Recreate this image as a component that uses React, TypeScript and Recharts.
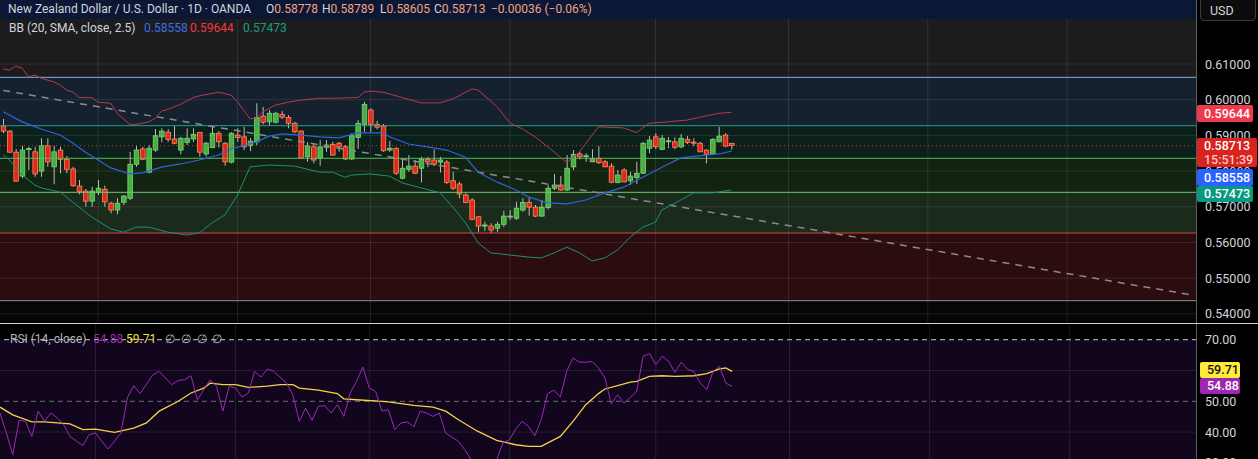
import React from "react";
import { ComposedChart, Bar, Line, XAxis, YAxis, ReferenceArea, ReferenceLine } from "recharts";

// ---------- candle data (NZD/USD daily) ----------
const opens = [0.5926,0.5912,0.5853,0.5786,0.5862,0.5854,0.5800,0.5871,0.5812,0.5859,0.5833,0.5806,0.5758,0.5744,0.5716,0.5740,0.5749,0.5710,0.5691,0.5713,0.5724,0.5819,0.5862,0.5797,0.5859,0.5896,0.5909,0.5890,0.5859,0.5880,0.5890,0.5908,0.5848,0.5866,0.5906,0.5878,0.5825,0.5901,0.5896,0.5871,0.5882,0.5954,0.5938,0.5937,0.5959,0.5950,0.5934,0.5912,0.5840,0.5868,0.5836,0.5867,0.5875,0.5878,0.5868,0.5834,0.5894,0.5931,0.5971,0.5931,0.5926,0.5859,0.5864,0.5780,0.5805,0.5814,0.5808,0.5833,0.5831,0.5825,0.5825,0.5773,0.5764,0.5733,0.5719,0.5672,0.5646,0.5646,0.5640,0.5651,0.5672,0.5668,0.5691,0.5712,0.5699,0.5674,0.5698,0.5752,0.5761,0.5747,0.5812,0.5848,0.5842,0.5826,0.5836,0.5826,0.5814,0.5768,0.5803,0.5773,0.5782,0.5794,0.5864,0.5896,0.5861,0.5884,0.5882,0.5868,0.5889,0.5881,0.5878,0.5859,0.5847,0.5882,0.5901,0.58778];
const highs = [0.5946,0.5915,0.5862,0.5871,0.5868,0.5868,0.5892,0.5892,0.5871,0.5868,0.5842,0.5812,0.5775,0.5750,0.5756,0.5775,0.5759,0.5714,0.5724,0.5733,0.5854,0.5873,0.5868,0.5873,0.5918,0.5920,0.5918,0.5926,0.5896,0.5920,0.5920,0.5910,0.5882,0.5924,0.5912,0.5882,0.5909,0.5920,0.5924,0.5892,0.5990,0.5980,0.5971,0.5966,0.5968,0.5957,0.5938,0.5915,0.5881,0.5875,0.5887,0.5887,0.5882,0.5882,0.5873,0.5906,0.5943,0.5994,0.5976,0.5941,0.5932,0.5885,0.5866,0.5836,0.5845,0.5831,0.5840,0.5840,0.5861,0.5840,0.5831,0.5798,0.5770,0.5738,0.5724,0.5674,0.5658,0.5654,0.5658,0.5689,0.5691,0.5714,0.5724,0.5724,0.5705,0.5719,0.5761,0.5792,0.5786,0.5845,0.5859,0.5854,0.5850,0.5861,0.5870,0.5831,0.5822,0.5803,0.5808,0.5798,0.5826,0.5882,0.5898,0.5906,0.5901,0.5895,0.5895,0.5904,0.5898,0.5892,0.5882,0.5861,0.5892,0.5924,0.5906,0.58789];
const lows = [0.5906,0.5851,0.5770,0.5780,0.5803,0.5784,0.5784,0.5812,0.5763,0.5794,0.5794,0.5756,0.5735,0.5700,0.5700,0.5733,0.5700,0.5682,0.5679,0.5705,0.5719,0.5812,0.5831,0.5794,0.5854,0.5881,0.5882,0.5875,0.5847,0.5873,0.5882,0.5840,0.5840,0.5864,0.5866,0.5815,0.5822,0.5882,0.5859,0.5856,0.5873,0.5931,0.5929,0.5934,0.5946,0.5920,0.5906,0.5834,0.5826,0.5822,0.5815,0.5854,0.5843,0.5854,0.5831,0.5831,0.5862,0.5910,0.5910,0.5917,0.5854,0.5854,0.5789,0.5777,0.5798,0.5792,0.5768,0.5811,0.5814,0.5796,0.5764,0.5747,0.5724,0.5710,0.5663,0.5630,0.5633,0.5626,0.5630,0.5643,0.5663,0.5663,0.5686,0.5675,0.5671,0.5672,0.5693,0.5747,0.5745,0.5744,0.5803,0.5833,0.5826,0.5826,0.5820,0.5811,0.5766,0.5766,0.5768,0.5761,0.5764,0.5792,0.5850,0.5861,0.5859,0.5864,0.5861,0.5864,0.5876,0.5870,0.5853,0.5822,0.5845,0.5881,0.5867,0.58605];
const closes = [0.5912,0.5853,0.5772,0.5859,0.5863,0.5792,0.5871,0.5826,0.5854,0.5833,0.5805,0.5759,0.5742,0.5716,0.5744,0.5752,0.5714,0.5691,0.5710,0.5730,0.5819,0.5859,0.5833,0.5864,0.5899,0.5912,0.5889,0.5878,0.5892,0.5892,0.5903,0.5853,0.5878,0.5906,0.5882,0.5826,0.5906,0.5894,0.5868,0.5884,0.5950,0.5937,0.5962,0.5962,0.5951,0.5934,0.5910,0.5836,0.5871,0.5831,0.5868,0.5873,0.5845,0.5868,0.5834,0.5899,0.5934,0.5987,0.5931,0.5923,0.5857,0.5864,0.5794,0.5808,0.5814,0.5794,0.5833,0.5826,0.5819,0.5831,0.5768,0.5752,0.5736,0.5712,0.5665,0.5646,0.5649,0.5635,0.5651,0.5674,0.5674,0.5696,0.5712,0.5699,0.5674,0.5699,0.5752,0.5761,0.5747,0.5808,0.5847,0.5840,0.5843,0.5836,0.5824,0.5812,0.5769,0.5789,0.5770,0.5786,0.5794,0.5878,0.5887,0.5868,0.5892,0.5885,0.5867,0.5892,0.5880,0.5880,0.5854,0.5847,0.5889,0.5898,0.5870,0.58713];

// ---------- Bollinger Bands (20, SMA, close, 2.5): [candle index, value] vertices ----------
const bbUpper: [number, number][] = [[0,0.6086],[1,0.6083],[2,0.6094],[3,0.6088],[4,0.6064],[5,0.6069],[6,0.6060],[8,0.6050],[9,0.6041],[10,0.6027],[11,0.6022],[12,0.6006],[14,0.6006],[15,0.5993],[17,0.5990],[18,0.5962],[20,0.5931],[21,0.5931],[23,0.5938],[24,0.5948],[25,0.5968],[26,0.5973],[28,0.5987],[30,0.6006],[31,0.6011],[34,0.6021],[36,0.6013],[37,0.5994],[39,0.5946],[40,0.5950],[41,0.5966],[43,0.5985],[45,0.5993],[47,0.5999],[50,0.6004],[52,0.6004],[56,0.6006],[57,0.6021],[58,0.6024],[60,0.6021],[61,0.6016],[66,0.5991],[69,0.5991],[71,0.6002],[74,0.6030],[75,0.6027],[78,0.5980],[80,0.5935],[82,0.5918],[84,0.5896],[86,0.5868],[89,0.5824],[91,0.5854],[93,0.5901],[94,0.5924],[98,0.5921],[100,0.5908],[102,0.5934],[105,0.5938],[108,0.5943],[110,0.5951],[113,0.5962],[115,0.59644]];
const bbBasis: [number, number][] = [[0,0.5966],[3,0.5938],[6,0.5918],[9,0.5901],[11,0.5879],[13,0.5853],[15,0.5831],[17,0.5809],[20,0.5792],[22,0.5795],[25,0.5811],[28,0.5820],[31,0.5831],[34,0.5845],[36,0.5862],[40,0.5882],[42,0.5898],[44,0.5904],[47,0.5901],[50,0.5896],[53,0.5893],[56,0.5907],[60,0.5907],[61,0.5896],[64,0.5876],[68,0.5865],[70,0.5859],[73,0.5839],[75,0.5797],[78,0.5769],[81,0.5747],[83,0.5727],[86,0.5711],[89,0.5708],[92,0.5719],[95,0.5739],[98,0.5755],[101,0.5783],[104,0.5811],[107,0.5837],[111,0.5845],[113,0.5848],[115,0.58558]];
const bbLower: [number, number][] = [[0,0.5845],[1,0.5831],[3,0.5789],[5,0.5761],[6,0.5753],[9,0.5741],[11,0.5713],[13,0.5685],[14,0.5671],[17,0.5638],[19,0.5629],[21,0.5643],[23,0.5643],[26,0.5629],[29,0.5621],[31,0.5627],[33,0.5655],[35,0.5677],[37,0.5733],[39,0.5812],[42,0.5817],[46,0.5814],[50,0.5797],[52,0.5797],[54,0.5783],[55,0.5789],[58,0.5792],[61,0.5786],[63,0.5767],[66,0.5753],[69,0.5739],[71,0.5699],[73,0.5655],[75,0.5599],[77,0.5571],[80,0.5565],[83,0.5559],[85,0.5557],[87,0.5571],[89,0.5587],[91,0.5571],[93,0.5548],[95,0.5557],[97,0.5579],[99,0.5615],[101,0.5643],[103,0.5657],[104,0.5691],[107,0.5719],[109,0.5739],[112,0.5739],[115,0.57473]];
const trendLine: [number, number][] = [[0,0.6026],[188,0.5452]];

// ---------- RSI (14, close) and its MA ----------
const rsiVals: [number, number][] = [[0,46.2],[1,39.7],[2,32.7],[3,43.8],[4,43.5],[5,38.6],[6,46.8],[7,43.5],[8,46.2],[9,44.6],[10,42.4],[11,38.6],[13,35.6],[14,39.2],[15,39.7],[16,37.0],[17,34.5],[19,39.7],[20,51.1],[21,55.1],[22,52.5],[24,58.6],[25,59.7],[27,55.4],[28,56.8],[29,57.0],[30,58.3],[31,50.5],[33,57.0],[34,54.9],[35,46.8],[36,54.9],[37,54.3],[38,51.4],[39,52.7],[40,59.7],[41,57.9],[42,60.5],[43,59.7],[45,55.9],[46,52.1],[47,43.5],[48,47.8],[49,43.8],[50,48.4],[51,48.6],[52,46.2],[53,48.9],[54,45.1],[55,52.7],[56,56.5],[57,61.1],[58,54.3],[59,53.2],[60,46.8],[61,47.3],[62,40.8],[63,43.0],[64,43.3],[65,41.7],[66,46.8],[67,46.2],[68,45.1],[69,46.2],[70,39.7],[72,37.0],[73,34.3],[74,31.0],[75,28.5],[76,29.0],[77,28.0],[78,31.0],[79,36.5],[80,37.5],[81,41.0],[82,43.5],[83,41.9],[84,38.8],[85,44.0],[86,52.5],[87,53.6],[88,51.4],[89,59.7],[90,64.1],[91,62.7],[92,62.7],[93,62.9],[94,60.8],[95,57.6],[96,49.2],[97,52.1],[98,49.4],[99,51.3],[100,53.2],[101,64.6],[102,65.5],[103,61.9],[104,64.6],[105,63.0],[106,59.4],[107,62.7],[108,60.3],[109,59.7],[110,55.9],[111,53.8],[112,59.7],[113,61.4],[114,55.9],[115,54.88]];
const rsiMaVals: [number, number][] = [[0,48.1],[2,45.6],[5,43.3],[7,43.3],[11,42.7],[13,40.8],[15,41.0],[18,39.9],[21,41.3],[23,43.0],[25,46.8],[28,50.0],[30,52.7],[32,54.3],[33,55.9],[35,55.4],[37,55.4],[39,54.5],[42,54.9],[44,55.4],[46,55.4],[47,54.3],[50,53.6],[53,52.5],[54,50.8],[56,50.5],[60,50.0],[61,49.8],[65,48.7],[68,48.1],[70,46.8],[72,44.0],[75,40.3],[78,37.3],[81,35.9],[83,35.4],[85,35.4],[88,38.6],[90,43.5],[92,48.9],[94,52.5],[95,54.0],[97,55.1],[99,56.2],[100,56.5],[102,58.1],[104,58.3],[106,58.1],[109,58.3],[111,59.0],[113,60.5],[114,60.8],[115,59.71]];

// ---------- axes / levels ----------
const priceTicks = [0.54, 0.55, 0.56, 0.57, 0.58, 0.59, 0.6, 0.61];
const rsiTicks = [30, 40, 50, 60, 70];
const monthStarts = [15, 37, 58, 80, 103, 124, 146, 168];
const levelUpperBlue = 0.60627;
const levelTeal = 0.59272;
const levelGreen1 = 0.58359;
const levelGreen2 = 0.57406;
const levelRed = 0.56266;
const levelBottom = 0.5437;
const lastClose = 0.58713;
const SLOTS = 189;
const PRICE_DOMAIN: [number, number] = [0.53745, 0.62793];
const RSI_DOMAIN: [number, number] = [31.27, 75.42];

type Row = { i: number; range: [number, number] | null; o: number | null; h: number | null; l: number | null; c: number | null; upper?: number; basis?: number; lower?: number; trend?: number; rsi?: number; rsiMa?: number };
const rows: Row[] = Array.from({ length: SLOTS }, (_, i) => ({
  i,
  range: i < opens.length ? [lows[i], highs[i]] : null,
  o: i < opens.length ? opens[i] : null,
  h: i < opens.length ? highs[i] : null,
  l: i < opens.length ? lows[i] : null,
  c: i < opens.length ? closes[i] : null,
}));
const put = (pairs: [number, number][], key: keyof Row) => { for (const [k, v] of pairs) (rows[k] as any)[key] = v; };
put(bbUpper, "upper"); put(bbBasis, "basis"); put(bbLower, "lower"); put(trendLine, "trend");
put(rsiVals, "rsi"); put(rsiMaVals, "rsiMa");

const FONT = "Roboto, 'Noto Sans', sans-serif";
const TXT = "#d1d4dc";

const Candle = (props: any) => {
  const { x, y, width, height, payload } = props;
  if (!payload || payload.o == null || x == null) return null;
  const { o, h, l, c } = payload;
  const cx = x + width / 2;
  const top = Math.min(y, y + height);
  const span = Math.abs(height);
  const py = (p: number) => (h === l ? top : top + ((h - p) / (h - l)) * span);
  const up = c >= o;
  const bTop = py(Math.max(o, c));
  const bBot = py(Math.min(o, c));
  const bh = Math.max(bBot - bTop, 1);
  return (
    <g>
      <line x1={cx} x2={cx} y1={top} y2={top + span} stroke="#b9b9b9" strokeWidth={1} />
      <rect x={cx - 2.3} y={bTop} width={4.6} height={bh} fill={up ? "#45b13f" : "#e3261d"} stroke={up ? "#7fd277" : "#ff8a55"} strokeWidth={0.8} />
    </g>
  );
};

const PriceTick = (p: any) => (
  <text x={1205} y={p.y} dy={4.5} fill={TXT} fontSize={12.5} fontFamily={FONT} textAnchor="start">
    {Number(p.payload.value).toFixed(5)}
  </text>
);
const RsiTick = (p: any) => (
  <text x={1205} y={p.y} dy={4.5} fill={TXT} fontSize={12.5} fontFamily={FONT} textAnchor="start">
    {Number(p.payload.value).toFixed(2)}
  </text>
);

const abs = (left: number, top: number, extra: React.CSSProperties = {}): React.CSSProperties => ({
  position: "absolute", left, top, whiteSpace: "nowrap", fontFamily: FONT, fontSize: 12, lineHeight: "18px", ...extra,
});
const badge = (top: number, h: number, bg: string, color: string, left = 1197, w = 56): React.CSSProperties => ({
  position: "absolute", left, top, width: w, height: h, background: bg, color, fontFamily: FONT, fontSize: 12.5,
  fontWeight: 500, borderRadius: 2, paddingLeft: 7, boxSizing: "border-box", lineHeight: `${h}px`,
});

const GRID = "rgba(255,255,255,0.09)";

export default function App() {
  return (
    <div style={{ position: "absolute", left: 0, top: 0, width: 1258, height: 459, background: "#000", overflow: "hidden" }}>
      {/* price pane */}
      <div style={{ position: "absolute", left: 0, top: 0 }}>
        <ComposedChart width={1258} height={323} data={rows} margin={{ top: 0, right: 0, bottom: 0, left: 0 }}>
          <XAxis dataKey="i" type="category" hide />
          <YAxis orientation="right" width={61} domain={PRICE_DOMAIN} allowDataOverflow ticks={priceTicks} tick={PriceTick} axisLine={false} tickLine={false} interval={0} />
          <ReferenceArea y1={levelUpperBlue} y2={PRICE_DOMAIN[1]} fill="#1c1c1f" fillOpacity={1} stroke="none" />
          <ReferenceArea y1={levelTeal} y2={levelUpperBlue} fill="#15212e" fillOpacity={1} stroke="none" />
          <ReferenceArea y1={levelGreen1} y2={levelTeal} fill="#0b1f1b" fillOpacity={1} stroke="none" />
          <ReferenceArea y1={levelGreen2} y2={levelGreen1} fill="#132311" fillOpacity={1} stroke="none" />
          <ReferenceArea y1={levelRed} y2={levelGreen2} fill="#1a2a1b" fillOpacity={1} stroke="none" />
          <ReferenceArea y1={levelBottom} y2={levelRed} fill="#2b0d10" fillOpacity={1} stroke="none" />
          <ReferenceArea y1={PRICE_DOMAIN[0]} y2={levelBottom} fill="#060606" fillOpacity={1} stroke="none" />
          {priceTicks.map((t) => (
            <ReferenceLine key={"g" + t} y={t} stroke={GRID} strokeWidth={1} />
          ))}
          {monthStarts.map((m) => (
            <ReferenceLine key={"v" + m} x={m} stroke={GRID} strokeWidth={1} />
          ))}
          <ReferenceLine y={levelUpperBlue} stroke="#7fb4e4" strokeWidth={1} />
          <ReferenceLine y={levelTeal} stroke="#26a292" strokeWidth={1} />
          <ReferenceLine y={levelGreen1} stroke="#5fb75f" strokeWidth={1} />
          <ReferenceLine y={levelGreen2} stroke="#72c872" strokeWidth={1} />
          <ReferenceLine y={levelRed} stroke="#d9463f" strokeWidth={1} />
          <ReferenceLine y={levelBottom} stroke="#8d8f96" strokeWidth={1} />
          <ReferenceLine y={lastClose} stroke="#e0322a" strokeWidth={1} strokeDasharray="1 3" />
          <Line dataKey="trend" stroke="#8a8c91" strokeWidth={1.5} strokeDasharray="7 6" dot={false} connectNulls isAnimationActive={false} />
          <Line dataKey="upper" stroke="#b63a4c" strokeWidth={1} dot={false} connectNulls isAnimationActive={false} />
          <Line dataKey="lower" stroke="#1f8f74" strokeWidth={1} dot={false} connectNulls isAnimationActive={false} />
          <Line dataKey="basis" stroke="#2f63e0" strokeWidth={1.2} dot={false} connectNulls isAnimationActive={false} />
          <Bar dataKey="range" shape={Candle} barSize={5} isAnimationActive={false} />
        </ComposedChart>
      </div>

      {/* RSI pane */}
      <div style={{ position: "absolute", left: 0, top: 323 }}>
        <ComposedChart width={1258} height={136} data={rows} margin={{ top: 0, right: 0, bottom: 0, left: 0 }}>
          <XAxis dataKey="i" type="category" hide />
          <YAxis orientation="right" width={61} domain={RSI_DOMAIN} allowDataOverflow ticks={rsiTicks} tick={RsiTick} axisLine={false} tickLine={false} interval={0} />
          <ReferenceArea y1={30} y2={70} fill="#12061e" fillOpacity={1} stroke="none" ifOverflow="hidden" />
          {[40, 60].map((t) => (
            <ReferenceLine key={"rg" + t} y={t} stroke={GRID} strokeWidth={1} />
          ))}
          {monthStarts.map((m) => (
            <ReferenceLine key={"rv" + m} x={m} stroke={GRID} strokeWidth={1} />
          ))}
          <ReferenceLine y={70} stroke="#c9cbd1" strokeWidth={1} strokeDasharray="5 4" />
          <ReferenceLine y={50} stroke="#6f7079" strokeWidth={1} strokeDasharray="5 4" />
          <Line dataKey="rsiMa" stroke="#f2d24a" strokeWidth={1.3} dot={false} connectNulls isAnimationActive={false} />
          <Line dataKey="rsi" stroke="#9a2cb4" strokeWidth={1} dot={false} connectNulls isAnimationActive={false} />
        </ComposedChart>
      </div>

      {/* pane separators */}
      <div style={{ position: "absolute", left: 1196, top: 0, width: 1, height: 459, background: "#56585e" }} />
      <div style={{ position: "absolute", left: 0, top: 323, width: 1258, height: 1, background: "#cfd1d6" }} />

      {/* header */}
      <div style={{ position: "absolute", left: 0, top: 0, width: 1196, height: 19, background: "#0b1735" }} />
      <span style={abs(8, 0, { color: TXT })}>New Zealand Dollar / U.S. Dollar · 1D · OANDA</span>
      <span style={abs(266, 0, { color: TXT })}>O<span style={{ color: "#f4a27f" }}>0.58778</span></span>
      <span style={abs(322, 0, { color: TXT })}>H<span style={{ color: "#f4a27f" }}>0.58789</span></span>
      <span style={abs(380, 0, { color: TXT })}>L<span style={{ color: "#f4a27f" }}>0.58605</span></span>
      <span style={abs(434, 0, { color: TXT })}>C<span style={{ color: "#f4a27f" }}>0.58713</span></span>
      <span style={abs(491, 0, { color: "#f4a27f" })}>−0.00036 (−0.06%)</span>

      <span style={abs(9, 19, { color: TXT })}>BB (20, SMA, close, 2.5)</span>
      <span style={abs(144, 19, { color: "#3c6ee8" })}>0.58558</span>
      <span style={abs(190, 19, { color: "#f23645" })}>0.59644</span>
      <span style={abs(243, 19, { color: "#1a9e80" })}>0.57473</span>

      {/* RSI legend */}
      <span style={abs(10, 330, { color: "#b2b5be" })}>RSI (14, close)</span>
      <span style={abs(93, 330, { color: "#9a2cb4" })}>54.88</span>
      <span style={abs(126, 330, { color: "#f2e14a" })}>59.71</span>
      <span style={abs(165, 330, { color: "#b2b5be" })}>∅</span>
      <span style={abs(181, 330, { color: "#b2b5be" })}>∅</span>
      <span style={abs(197, 330, { color: "#b2b5be" })}>∅</span>
      <span style={abs(212, 330, { color: "#b2b5be" })}>∅</span>

      {/* currency box */}
      <div style={{ position: "absolute", left: 1200, top: -3, width: 56, height: 24, border: "1px solid #3a3c42", borderRadius: 4, background: "#0c0c0c", boxSizing: "border-box", color: TXT, fontFamily: FONT, fontSize: 12.5, lineHeight: "26px", paddingLeft: 9 }}>USD</div>

      {/* price badges */}
      <div style={badge(105, 17, "#ef3a4c", "#fff")}>0.59644</div>
      <div style={{ ...badge(138, 29, "#d8231f", "#fff", 1197, 60), lineHeight: "14px", paddingTop: 1 }}>
        <div>0.58713</div>
        <div style={{ color: "#ffc9c4" }}>15:51:39</div>
      </div>
      <div style={badge(169, 17, "#2962ff", "#fff")}>0.58558</div>
      <div style={badge(186, 16, "#089981", "#fff")}>0.57473</div>
      <div style={badge(362, 16, "#ffeb3b", "#111", 1200, 40)}>59.71</div>
      <div style={badge(378, 16, "#9c27b0", "#fff", 1200, 40)}>54.88</div>
    </div>
  );
}
